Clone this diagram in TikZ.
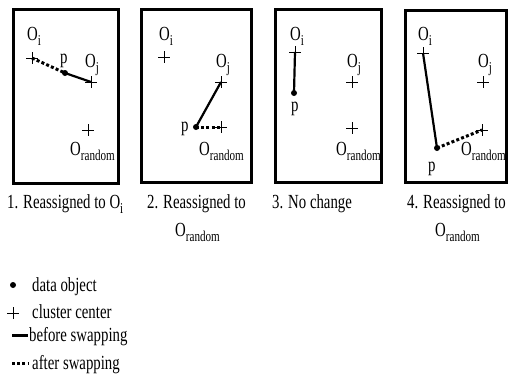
\documentclass[tikz,border=0pt]{standalone}
\usepackage{fontspec}
\setmainfont{Liberation Serif}
\usepackage{graphicx}
\usetikzlibrary{shapes.misc}
\newcommand\sq[1]{\scalebox{0.74}[1]{#1}}
\newcommand\sbs[1]{\raisebox{-5pt}{\fontsize{15}{15}\selectfont #1}}
\begin{document}
\begin{tikzpicture}[x=1pt,y=-1pt,
  panel/.style={line width=3pt},
  lbl/.style={inner sep=0pt, font=\fontsize{20}{22}\selectfont, anchor=base west},
  dobj/.style={circle, fill, inner sep=0pt, minimum size=6pt},
  ctr/.style={cross out, draw, line width=0.8pt, rotate=45, inner sep=0pt, minimum size=7.5pt},
  before/.style={line width=2.2pt},
  after/.style={line width=3pt, dash pattern=on 3pt off 2.2pt}]
\useasboundingbox (0,0) rectangle (509,383);
% panel 1
\draw[panel] (13.5,9) rectangle (118.5,183.5);
\node[ctr] (c1i) at (32,58) {};
\node[ctr] (c1j) at (91,82) {};
\node[ctr] (c1r) at (88,130) {};
\node[dobj] (p1) at (65,73) {};
\node[lbl] (l1i) at (27,40) {\sq{O\sbs{i}}};
\node[lbl] (l1j) at (85,67) {\sq{O\sbs{j}}};
\node[lbl] (l1r) at (70,155) {\sq{O\sbs{random}}};
\node[lbl] (l1p) at (60,63) {\sq{p}};
\draw[before] (p1.center) -- (c1j.center);
\draw[after] (c1i.center) -- (p1.center);
% panel 2
\draw[panel] (141.5,9) rectangle (251.7,182);
\node[ctr] (c2i) at (164,57) {};
\node[ctr] (c2j) at (221,82) {};
\node[ctr] (c2r) at (221,127) {};
\node[dobj] (p2) at (196,127) {};
\node[lbl] (l2i) at (159,40) {\sq{O\sbs{i}}};
\node[lbl] (l2j) at (216,67) {\sq{O\sbs{j}}};
\node[lbl] (l2r) at (199,155) {\sq{O\sbs{random}}};
\node[lbl] (l2p) at (181,131) {\sq{p}};
\draw[before] (p2.center) -- (c2j.center);
\draw[after] (p2.center) -- (c2r.center);
% panel 3
\draw[panel] (275,9) rectangle (381.7,182);
\node[ctr] (c3i) at (295,52) {};
\node[ctr] (c3j) at (352,82) {};
\node[ctr] (c3r) at (352,128) {};
\node[dobj] (p3) at (294,93) {};
\node[lbl] (l3i) at (290,40) {\sq{O\sbs{i}}};
\node[lbl] (l3j) at (347,67) {\sq{O\sbs{j}}};
\node[lbl] (l3r) at (336,155) {\sq{O\sbs{random}}};
\node[lbl] (l3p) at (291,111) {\sq{p}};
\draw[before] (c3i.center) -- (p3.center);
% panel 4
\draw[panel] (405,10) rectangle (506.5,182);
\node[ctr] (c4i) at (423,53) {};
\node[ctr] (c4j) at (483,82) {};
\node[ctr] (c4r) at (482,130) {};
\node[dobj] (p4) at (437,148) {};
\node[lbl] (l4i) at (418,40) {\sq{O\sbs{i}}};
\node[lbl] (l4j) at (478,67) {\sq{O\sbs{j}}};
\node[lbl] (l4r) at (461,155) {\sq{O\sbs{random}}};
\node[lbl] (l4p) at (428,171) {\sq{p}};
\draw[before] (c4i.center) -- (p4.center);
\draw[after] (p4.center) -- (c4r.center);
% captions
\node[lbl] (cap1) at (7,208) {\sq{1. Reassigned to O\sbs{i}}};
\node[lbl] (cap2) at (147,208) {\sq{2. Reassigned to}};
\node[lbl] (cap2b) at (175,236) {\sq{O\sbs{random}}};
\node[lbl] (cap3) at (272,208) {\sq{3. No change}};
\node[lbl] (cap4) at (407,208) {\sq{4. Reassigned to}};
\node[lbl] (cap4b) at (435,236) {\sq{O\sbs{random}}};
% legend
\node[dobj, minimum size=6pt] (kdot) at (13,285) {};
\node[lbl] (kt1) at (32,291) {\sq{data object}};
\node[ctr] (kplus) at (13,313) {};
\node[lbl] (kt2) at (32,318) {\sq{cluster center}};
\coordinate (kb1) at (12,335);
\coordinate (kb2) at (28,335);
\draw[line width=3pt] (kb1) -- (kb2);
\node[lbl] (kt3) at (29,341) {\sq{before swapping}};
\coordinate (ka1) at (12,363);
\coordinate (ka2) at (28,363);
\draw[after] (ka1) -- (ka2);
\node[lbl] (kt4) at (32,369) {\sq{after swapping}};
\end{tikzpicture}
\end{document}
